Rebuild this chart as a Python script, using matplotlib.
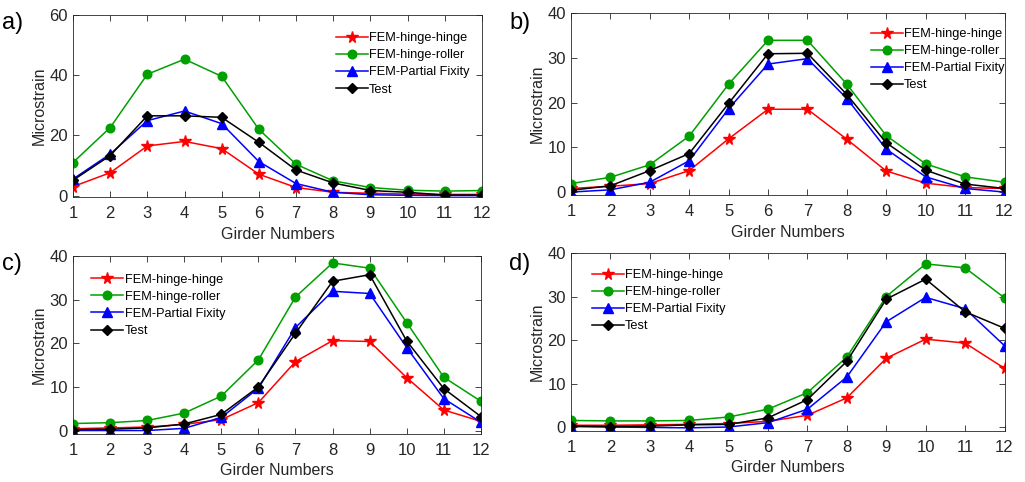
import matplotlib
matplotlib.use("Agg")
import matplotlib.pyplot as plt

plt.rcParams['font.family'] = ['Liberation Sans', 'DejaVu Sans']

girders = list(range(1, 13))
series_names = ['FEM-hinge-hinge', 'FEM-hinge-roller', 'FEM-Partial Fixity', 'Test']

# ---------- panel a ----------
a_hinge = [3.0, 7.6, 16.5, 18.0, 15.6, 7.1, 2.7, 1.1, 0.8, 0.5, 0.4, 0.4]
a_roller = [11.0, 22.6, 40.3, 45.3, 39.6, 22.0, 10.4, 4.9, 2.7, 1.8, 1.5, 1.7]
a_partial = [5.5, 13.8, 24.9, 28.1, 23.9, 11.3, 4.0, 1.1, 0.3, 0.1, 0.0, 0.0]
a_test = [5.1, 13.3, 26.5, 26.5, 26.0, 17.7, 8.5, 4.2, 1.7, 1.1, 0.2, 0.2]

# ---------- panel b ----------
b_hinge = [0.8, 1.3, 1.9, 4.8, 11.9, 18.5, 18.5, 11.8, 4.7, 2.0, 1.0, 0.8]
b_roller = [1.9, 3.3, 6.1, 12.5, 24.1, 33.9, 33.9, 24.1, 12.6, 6.3, 3.4, 2.2]
b_partial = [0.0, 0.5, 2.2, 7.0, 18.6, 28.6, 29.8, 20.9, 9.6, 3.4, 0.8, 0.0]
b_test = [0.4, 1.4, 4.8, 8.6, 19.8, 30.9, 31.0, 21.8, 11.0, 4.9, 1.8, 0.8]

# ---------- panel c ----------
c_hinge = [0.4, 0.6, 0.8, 1.4, 2.5, 6.4, 15.8, 20.6, 20.4, 12.1, 4.7, 2.1]
c_roller = [1.6, 1.8, 2.3, 4.0, 7.9, 16.2, 30.6, 38.4, 37.2, 24.7, 12.2, 6.7]
c_partial = [0.0, 0.0, 0.0, 0.5, 3.0, 9.7, 23.6, 31.9, 31.4, 19.0, 7.3, 1.9]
c_test = [0.2, 0.3, 0.6, 1.5, 3.7, 10.0, 22.3, 34.2, 35.7, 20.5, 9.6, 3.2]

# ---------- panel d ----------
d_hinge = [0.4, 0.4, 0.5, 0.6, 0.8, 1.3, 2.7, 6.7, 15.8, 20.2, 19.3, 13.5]
d_roller = [1.5, 1.4, 1.4, 1.5, 2.3, 4.1, 7.9, 16.1, 30.0, 37.5, 36.6, 29.7]
d_partial = [0.1, 0.0, -0.1, -0.2, 0.0, 1.0, 4.1, 11.5, 24.2, 29.8, 27.2, 18.7]
d_test = [0.2, 0.1, 0.2, 0.5, 0.6, 2.1, 6.3, 15.1, 29.4, 34.0, 26.5, 22.7]

styles = [('red', '*', 8.5), ('#00a000', 'o', 6.2), ('blue', '^', 6.5), ('black', 'D', 5.5)]

panels = [
    ('a)', [a_hinge, a_roller, a_partial, a_test], [0.0712, 0.591, 0.399, 0.378],
     (-0.5, 60), [0, 20, 40, 60], (0.643, 0.905), (0.002, 0.975)),
    ('b)', [b_hinge, b_roller, b_partial, b_test], [0.557, 0.595, 0.423, 0.378],
     (-0.7, 40), [0, 10, 20, 30, 40], (0.692, 0.917), (0.497, 0.975)),
    ('c)', [c_hinge, c_roller, c_partial, c_test], [0.0712, 0.100, 0.398, 0.369],
     (-0.75, 40), [0, 10, 20, 30, 40], (0.045, 0.90), (0.002, 0.475)),
    ('d)', [d_hinge, d_roller, d_partial, d_test], [0.557, 0.106, 0.423, 0.369],
     (-0.9, 40), [0, 10, 20, 30, 40], (0.048, 0.91), (0.497, 0.475)),
]

fig = plt.figure(figsize=(10.25, 4.82), dpi=100)

for label, data, rect, ylim, yticks, leg_pos, lab_pos in panels:
    ax = fig.add_axes(rect)
    for vals, name, (col, mk, ms) in zip(data, series_names, styles):
        ax.plot(girders, vals, color=col, marker=mk, markersize=ms, lw=1.1,
                label=name)
    ax.set_xlim(1, 12)
    ax.set_ylim(*ylim)
    ax.set_xticks(girders)
    ax.set_yticks(yticks)
    ax.tick_params(direction='in', top=True, right=True, labelsize=12,
                   length=4, width=0.6, colors='#262626')
    ax.tick_params(axis='x', pad=6.5)
    for s in ax.spines.values():
        s.set_color('#262626')
        s.set_linewidth(0.6)
    ax.set_xlabel('Girder Numbers', fontsize=11.5, color='#262626', labelpad=4)
    ax.set_ylabel('Microstrain', fontsize=11.5, color='#262626', labelpad=2)
    ax.legend(loc='upper left', bbox_to_anchor=leg_pos, frameon=False,
              fontsize=9.2, handlelength=2.5, handletextpad=0.1,
              labelspacing=0.4, borderaxespad=0, borderpad=0)
    fig.text(lab_pos[0], lab_pos[1], label, fontsize=17, va='top', ha='left')

fig.savefig('out.png', dpi=100)
